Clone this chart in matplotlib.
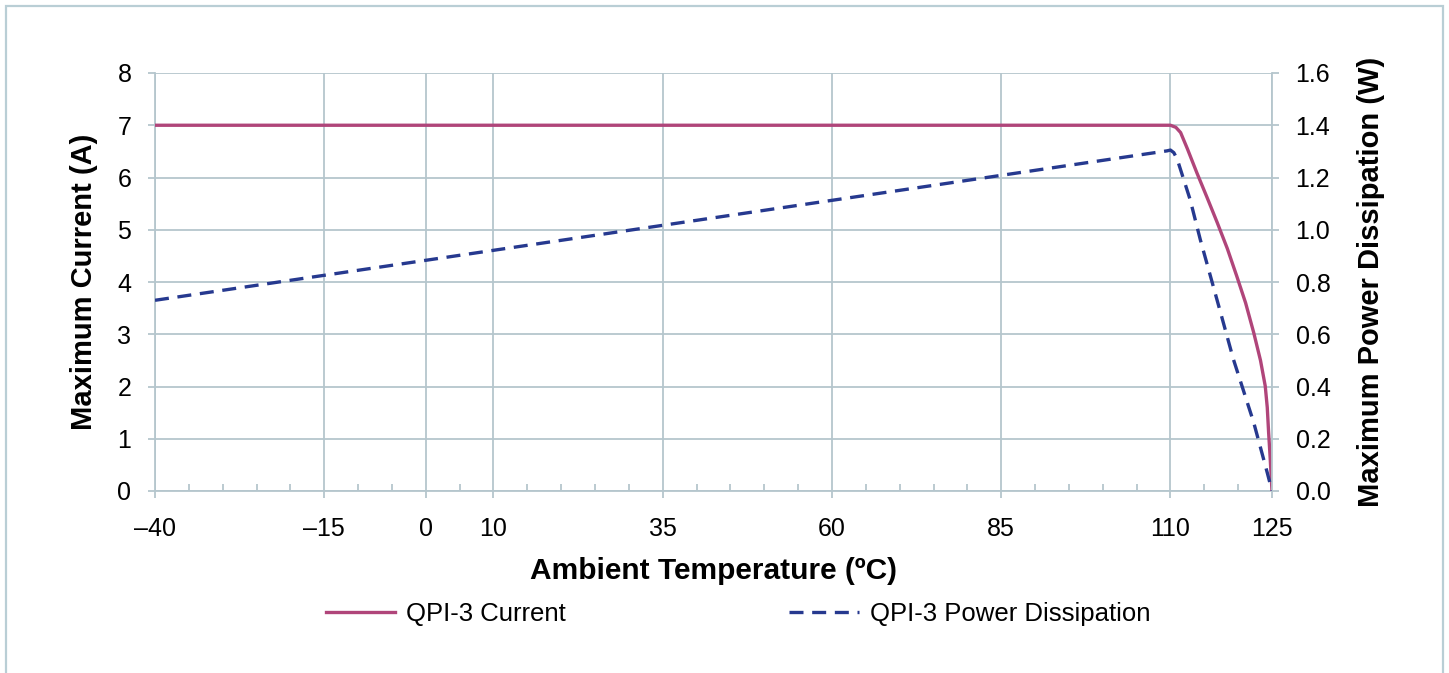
import matplotlib
matplotlib.use("Agg")
import matplotlib.pyplot as plt
from matplotlib.patches import Rectangle
from matplotlib.lines import Line2D

# ---- data ----
temp_current = [-40, 109, 110, 110.8, 111.5, 112.5, 113.9, 115.4, 116.9, 118.4, 119.8,
                121.1, 122.3, 123.3, 124.0, 124.3, 124.5, 124.7, 124.85, 125]
current = [7.0, 7.0, 7.0, 6.96, 6.86, 6.55, 6.09, 5.62, 5.14, 4.64, 4.11,
           3.6, 3.03, 2.5, 2.01, 1.6, 1.12, 0.7, 0.35, 0.0]

temp_power = [-40, 109.5, 110, 110.5, 111, 112.9, 114.4, 117.4, 119.3, 122.3, 124.3, 125]
power = [0.73, 1.302, 1.305, 1.295, 1.27, 1.116, 0.963, 0.683, 0.504, 0.262, 0.07, 0.0]

x_ticks = [-40, -15, 0, 10, 35, 60, 85, 110, 125]
x_tick_labels = ["\u201340", "\u201315", "0", "10", "35", "60", "85", "110", "125"]
y_left_ticks = [0, 1, 2, 3, 4, 5, 6, 7, 8]
y_right_ticks = [0.0, 0.2, 0.4, 0.6, 0.8, 1.0, 1.2, 1.4, 1.6]
y_right_labels = ["0.0", "0.2", "0.4", "0.6", "0.8", "1.0", "1.2", "1.4", "1.6"]

series_names = ["QPI-3 Current", "QPI-3 Power Dissipation"]

# ---- style ----
plt.rcParams['font.family'] = ['Liberation Sans', 'DejaVu Sans']
grid_c = '#b5c6cd'
cur_c = '#b0457a'
pow_c = '#26398f'

W, H = 1449, 673
fig = plt.figure(figsize=(W / 100, H / 100), dpi=100)
ax = fig.add_axes([155 / W, 1 - 491 / H, (1272 - 155) / W, (491 - 73) / H])
ax2 = ax.twinx()

ax.plot(temp_current, current, color=cur_c, lw=2.4, solid_capstyle='round',
        solid_joinstyle='round', zorder=3)
ax2.plot(temp_power, power, color=pow_c, lw=2.4, dashes=(4.2, 2.6), zorder=3)

ax.set_xlim(-40, 125)
ax.set_ylim(0, 8)
ax2.set_ylim(0, 1.6)

ax.set_xticks(x_ticks)
ax.set_xticklabels(x_tick_labels)
ax.set_xticks(list(range(-35, 125, 5)), minor=True)
ax.set_yticks(y_left_ticks)
ax2.set_yticks(y_right_ticks)
ax2.set_yticklabels(y_right_labels)

ax.grid(True, which='major', color=grid_c, lw=1.3, zorder=0)
ax.set_axisbelow(True)

for a in (ax, ax2):
    for s in a.spines.values():
        s.set_visible(False)
for a, side in ((ax, 'bottom'), (ax, 'left'), (ax2, 'right')):
    a.spines[side].set_visible(True)
    a.spines[side].set_color(grid_c)
    a.spines[side].set_linewidth(1.3)

ax.tick_params(axis='x', which='major', direction='out', length=5, width=1.3,
               color=grid_c, labelsize=18, pad=13.5)
ax.tick_params(axis='x', which='minor', direction='in', length=5, width=1.3, color=grid_c)
ax.tick_params(axis='y', which='major', direction='out', length=5, width=1.3,
               color=grid_c, labelsize=18, pad=12)
ax2.tick_params(axis='y', which='major', direction='out', length=5, width=1.3,
                color=grid_c, labelsize=18, pad=12)

ax.set_xlabel("Ambient Temperature (\u00baC)", fontsize=21.5, fontweight='bold', labelpad=12)
ax.set_ylabel("Maximum Current (A)", fontsize=21, fontweight='bold', labelpad=14)
ax2.set_ylabel("Maximum Power Dissipation (W)", fontsize=21, fontweight='bold', labelpad=19)

handles = [Line2D([], [], color=cur_c, lw=2.4),
           Line2D([], [], color=pow_c, lw=2.4, dashes=(4.2, 2.6))]
fig.legend(handles, series_names, loc='center', bbox_to_anchor=(738 / W, 1 - 614 / H),
           ncol=2, frameon=False, fontsize=18.5, handlelength=2.7, handletextpad=0.43,
           columnspacing=8.7)

# outer border
fig.patches.append(Rectangle((6.5 / W, -0.1), (1443 - 6.5) / W, 1.1 - 6.5 / H,
                             transform=fig.transFigure, fill=False,
                             edgecolor='#b9ced5', lw=1.6))

fig.savefig("out.png", dpi=100)
